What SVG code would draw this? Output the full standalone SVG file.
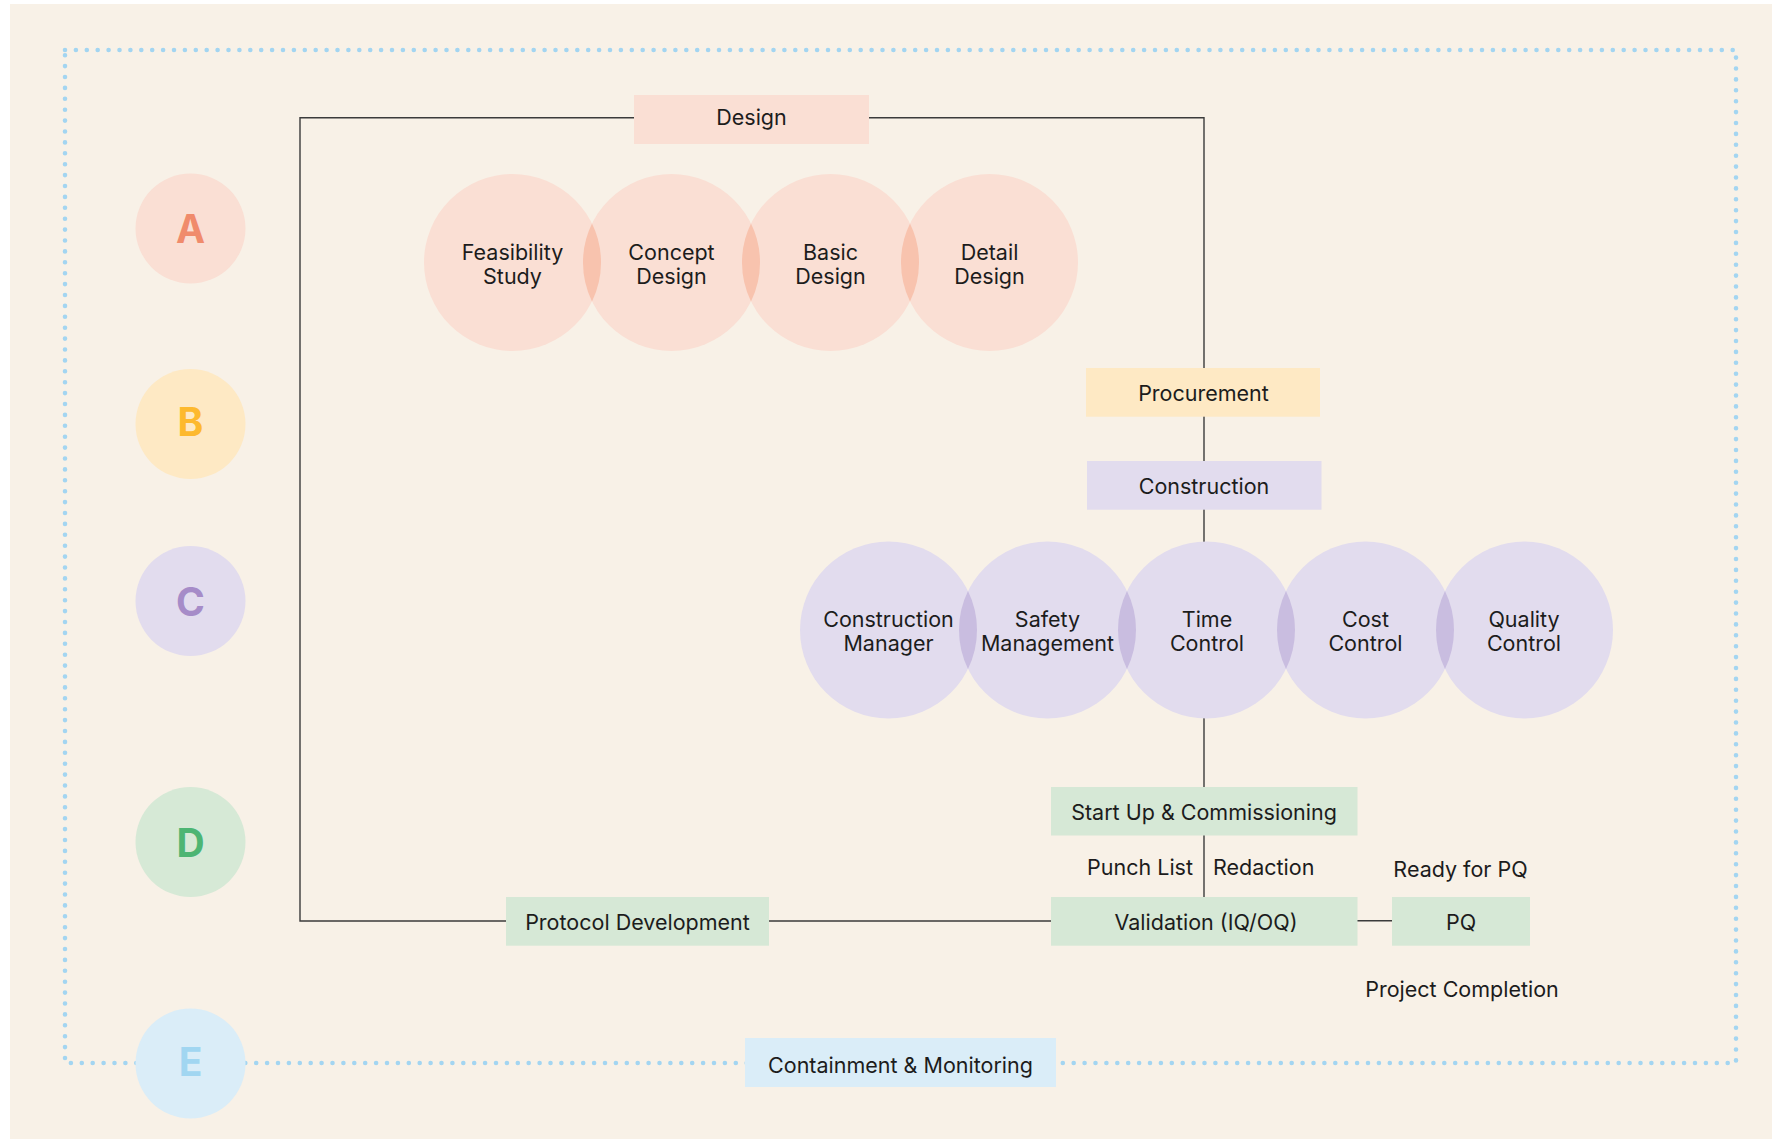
<svg xmlns="http://www.w3.org/2000/svg" width="1772" height="1139" viewBox="0 0 1772 1139">
  <style>
    .t { font-family: Inter, "Liberation Sans", sans-serif; font-size: 21.5px; fill: #1c1c1c; text-anchor: middle; }
    .ts { font-family: Inter, "Liberation Sans", sans-serif; font-size: 21.5px; fill: #1c1c1c; }
    .letter { font-family: Inter, "Liberation Sans", sans-serif; font-size: 39px; font-weight: 700; text-anchor: middle; }
    .dot { fill: none; stroke: #a3d5f1; stroke-width: 4.6; stroke-linecap: round; stroke-dasharray: 0 10.9; }
    .conn { fill: none; stroke: #3b3b3b; stroke-width: 1.4; }
    .oc { fill: #fadfd4; }
    .ol { fill: #f8c3ae; }
    .pc { fill: #e2dcee; }
    .pl { fill: #c9bde0; }
  </style>
  <rect x="0" y="0" width="1772" height="1139" fill="#ffffff"/>
  <rect x="10" y="4" width="1762" height="1135" fill="#f8f1e7"/>

  <g id="frame">
    <path class="dot" d="M65,50 H1736 V1063 H65 Z"/>
  </g>

  <g id="connectors">
    <polyline class="conn" points="1204,368 1204,117.7 300,117.7 300,921 1051,921"/>
    <line class="conn" x1="1204" y1="416" x2="1204" y2="897"/>
    <line class="conn" x1="1357" y1="920.7" x2="1392" y2="920.7"/>
  </g>

  <g id="legend-a"><circle cx="190.5" cy="228.5" r="55" fill="#fadfd4"/><text class="letter" x="190.5" y="243.3" fill="#f08b6c">A</text></g>
  <g id="legend-b"><circle cx="190.5" cy="424" r="55" fill="#fee9c4"/><text class="letter" x="190.5" y="435.5" fill="#fdb92e">B</text></g>
  <g id="legend-c"><circle cx="190.5" cy="601" r="55" fill="#e2dcee"/><text class="letter" x="190.5" y="615.8" fill="#a68cc8">C</text></g>
  <g id="legend-d"><circle cx="190.5" cy="842" r="55" fill="#d6e9d6"/><text class="letter" x="190.5" y="856.8" fill="#4db573">D</text></g>
  <g id="legend-e"><circle cx="190.5" cy="1063.5" r="55" fill="#daedf8"/><text class="letter" x="190.5" y="1076" fill="#a1d6f1">E</text></g>

  <g id="design"><rect x="634" y="95" width="235" height="49" fill="#fadfd4"/><text class="t" x="751.5" y="124.8">Design</text></g>

  <g id="design-phases">
    <g id="feasibility-study"><circle class="oc" cx="512.5" cy="262.5" r="88.5"/></g>
    <g id="concept-design"><circle class="oc" cx="671.5" cy="262.5" r="88.5"/></g>
    <g id="basic-design"><circle class="oc" cx="830.5" cy="262.5" r="88.5"/></g>
    <g id="detail-design"><circle class="oc" cx="989.5" cy="262.5" r="88.5"/></g>
    <path class="ol" d="M592,223.62 A88.5,88.5 0 0 1 592,301.38 A88.5,88.5 0 0 1 592,223.62 Z"/>
    <path class="ol" d="M751,223.62 A88.5,88.5 0 0 1 751,301.38 A88.5,88.5 0 0 1 751,223.62 Z"/>
    <path class="ol" d="M910,223.62 A88.5,88.5 0 0 1 910,301.38 A88.5,88.5 0 0 1 910,223.62 Z"/>
    <text class="t" x="512.5" y="259.5">Feasibility</text><text class="t" x="512.5" y="283.5">Study</text>
    <text class="t" x="671.5" y="259.5">Concept</text><text class="t" x="671.5" y="283.5">Design</text>
    <text class="t" x="830.5" y="259.5">Basic</text><text class="t" x="830.5" y="283.5">Design</text>
    <text class="t" x="989.5" y="259.5">Detail</text><text class="t" x="989.5" y="283.5">Design</text>
  </g>

  <g id="procurement"><rect x="1086" y="368" width="234" height="48.7" fill="#fee9c4"/><text class="t" x="1203.5" y="400.8">Procurement</text></g>
  <g id="construction"><rect x="1087" y="461" width="234.5" height="48.7" fill="#e2dcee"/><text class="t" x="1204" y="494.3">Construction</text></g>

  <g id="construction-areas">
    <g id="construction-manager"><circle class="pc" cx="888.5" cy="630" r="88.5"/></g>
    <g id="safety-management"><circle class="pc" cx="1047.5" cy="630" r="88.5"/></g>
    <g id="time-control"><circle class="pc" cx="1206.5" cy="630" r="88.5"/></g>
    <g id="cost-control"><circle class="pc" cx="1365.5" cy="630" r="88.5"/></g>
    <g id="quality-control"><circle class="pc" cx="1524.5" cy="630" r="88.5"/></g>
    <path class="pl" d="M968,591.12 A88.5,88.5 0 0 1 968,668.88 A88.5,88.5 0 0 1 968,591.12 Z"/>
    <path class="pl" d="M1127,591.12 A88.5,88.5 0 0 1 1127,668.88 A88.5,88.5 0 0 1 1127,591.12 Z"/>
    <path class="pl" d="M1286,591.12 A88.5,88.5 0 0 1 1286,668.88 A88.5,88.5 0 0 1 1286,591.12 Z"/>
    <path class="pl" d="M1445,591.12 A88.5,88.5 0 0 1 1445,668.88 A88.5,88.5 0 0 1 1445,591.12 Z"/>
    <text class="t" x="888.5" y="626.8">Construction</text><text class="t" x="888.5" y="650.8">Manager</text>
    <text class="t" x="1047.5" y="626.8">Safety</text><text class="t" x="1047.5" y="650.8">Management</text>
    <text class="t" x="1207" y="626.8">Time</text><text class="t" x="1207" y="650.8">Control</text>
    <text class="t" x="1365.5" y="626.8">Cost</text><text class="t" x="1365.5" y="650.8">Control</text>
    <text class="t" x="1524" y="626.8">Quality</text><text class="t" x="1524" y="650.8">Control</text>
  </g>

  <g id="startup"><rect x="1051" y="787" width="306.5" height="48.5" fill="#d6e8d6"/><text class="t" x="1204" y="819.5">Start Up &amp; Commissioning</text></g>
  <g id="validation"><rect x="1051" y="897" width="306.5" height="48.7" fill="#d6e8d6"/><text class="t" x="1206" y="930.3">Validation (IQ/OQ)</text></g>
  <g id="pq"><rect x="1392" y="897" width="138" height="48.7" fill="#d6e8d6"/><text class="t" x="1461" y="930.3">PQ</text></g>
  <g id="protocol-development"><rect x="506" y="897" width="263" height="48.7" fill="#d6e8d6"/><text class="t" x="637.5" y="930.3">Protocol Development</text></g>
  <g id="containment"><rect x="745" y="1038" width="311" height="49" fill="#daedf8"/><text class="t" x="900.5" y="1072.5">Containment &amp; Monitoring</text></g>

  <g id="labels">
    <text class="ts" x="1193" y="875.3" text-anchor="end">Punch List</text>
    <text class="ts" x="1213" y="875.3">Redaction</text>
    <text class="t" x="1460.5" y="876.8">Ready for PQ</text>
    <text class="t" x="1462" y="996.5">Project Completion</text>
  </g>
</svg>
